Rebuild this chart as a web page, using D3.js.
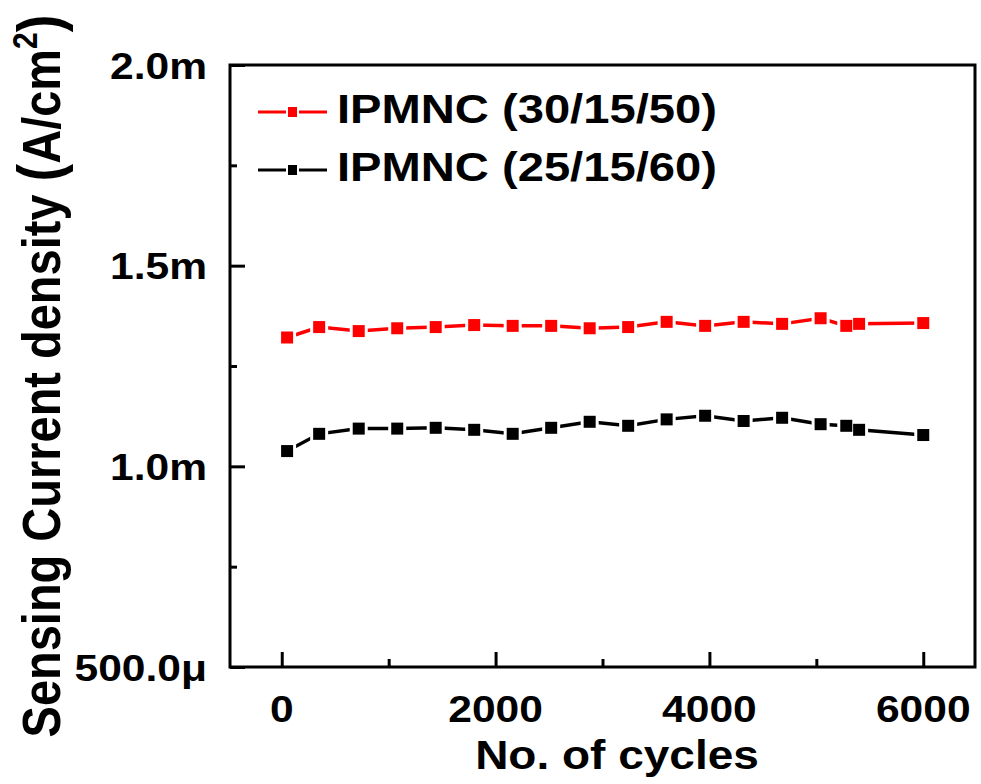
<!DOCTYPE html>
<html>
<head>
<meta charset="utf-8">
<script src="https://cdn.jsdelivr.net/npm/d3@7"></script>
<style>
  html, body { margin: 0; padding: 0; background: #fff; }
  svg { display: block; }
  text { font-family: "Liberation Sans", Arial, sans-serif; font-weight: bold; fill: #000; }
</style>
</head>
<body>
<svg id="chart" width="981" height="784"></svg>
<script>
// ---- data ----
const cycles = [50, 350, 720, 1080, 1440, 1800, 2160, 2520, 2880, 3240, 3600, 3960, 4320, 4680, 5040, 5280, 5400, 6000];
const seriesRed = [1.321, 1.347, 1.337, 1.344, 1.347, 1.352, 1.350, 1.350, 1.344, 1.347, 1.360, 1.350, 1.360, 1.355, 1.369, 1.350, 1.355, 1.357]; // mA/cm2
const seriesBlack = [1.038, 1.081, 1.094, 1.094, 1.096, 1.091, 1.081, 1.096, 1.111, 1.101, 1.117, 1.126, 1.113, 1.121, 1.105, 1.101, 1.091, 1.078]; // mA/cm2
const seriesNames = ["IPMNC (30/15/50)", "IPMNC (25/15/60)"];
const xTicks = [0, 2000, 4000, 6000];
const xMinorTicks = [1000, 3000, 5000];
const yTicks = [0.5, 1.0, 1.5, 2.0];
const yTickLabels = ["500.0\u03bc", "1.0m", "1.5m", "2.0m"];
const yMinorTicks = [0.75, 1.25, 1.75];

// ---- layout ----
const L = 230, R = 975, T = 65, B = 667;
const SX = 1.15; // horizontal stretch of the original rendering
const svg = d3.select("#chart");
const x = d3.scaleLinear().domain([-484, 6484]).range([L, R]);
const y = d3.scaleLinear().domain([0.5, 2.0]).range([B, T]);

// frame
svg.append("rect").attr("x", L).attr("y", T).attr("width", R - L).attr("height", B - T)
  .attr("fill", "none").attr("stroke", "#000").attr("stroke-width", 3);

// x axis ticks (inward)
const xAxis = d3.axisBottom(x).tickValues(xTicks).tickSizeInner(-15).tickSizeOuter(0).tickFormat("");
const gx = svg.append("g").attr("transform", `translate(0,${B})`).call(xAxis);
const xAxisMinor = d3.axisBottom(x).tickValues(xMinorTicks).tickSizeInner(-8).tickSizeOuter(0).tickFormat("");
const gxm = svg.append("g").attr("transform", `translate(0,${B})`).call(xAxisMinor);
[gx, gxm].forEach(g => { g.select(".domain").remove(); g.selectAll("line").attr("stroke", "#000").attr("stroke-width", 3); });

svg.append("g").selectAll("text").data(xTicks).join("text")
  .attr("transform", d => `translate(${x(d)},722) scale(${SX},1)`)
  .attr("text-anchor", "middle").attr("font-size", 37).text(d => d);

// y axis ticks
const yAxis = d3.axisLeft(y).tickValues(yTicks).tickSizeInner(-15).tickSizeOuter(0).tickFormat("");
const gy = svg.append("g").attr("transform", `translate(${L},0)`).call(yAxis);
const yAxisMinor = d3.axisLeft(y).tickValues(yMinorTicks).tickSizeInner(-7).tickSizeOuter(0).tickFormat("");
const gym = svg.append("g").attr("transform", `translate(${L},0)`).call(yAxisMinor);
[gy, gym].forEach(g => { g.select(".domain").remove(); g.selectAll("line").attr("stroke", "#000").attr("stroke-width", 3); });

svg.append("g").selectAll("text").data(yTicks).join("text")
  .attr("transform", d => `translate(207,${y(d) + 13.5}) scale(${SX},1)`)
  .attr("text-anchor", "end").attr("font-size", 37).text((d, i) => yTickLabels[i]);

// axis titles
svg.append("text").attr("transform", `translate(617,769) scale(${SX},1)`)
  .attr("text-anchor", "middle").attr("font-size", 40).text("No. of cycles");

const yt = svg.append("text").attr("transform", `translate(60,376) scale(${SX},1) rotate(-90)`)
  .attr("text-anchor", "middle").attr("font-size", 47);
yt.append("tspan").text("Sensing Current density ");
yt.append("tspan").attr("font-size", 53).text("(");
yt.append("tspan").text("A/cm");
yt.append("tspan").attr("font-size", 30).attr("dy", -20).text("2");
yt.append("tspan").attr("font-size", 53).attr("dy", 20).text(")");

// series
const series = [
  { vals: seriesRed, color: "#ff0000" },
  { vals: seriesBlack, color: "#000000" }
];
const line = d3.line().x(d => x(d[0])).y(d => y(d[1]));
series.forEach(s => {
  const pts = cycles.map((c, i) => [c, s.vals[i]]);
  svg.append("path").datum(pts).attr("d", line)
    .attr("fill", "none").attr("stroke", s.color).attr("stroke-width", 3.5);
});
// white gaps around markers
series.forEach(s => {
  const pts = cycles.map((c, i) => [c, s.vals[i]]);
  svg.append("g").selectAll("rect").data(pts).join("rect")
    .attr("x", d => x(d[0]) - 9).attr("y", d => y(d[1]) - 9)
    .attr("width", 18).attr("height", 18).attr("fill", "#fff");
});
series.forEach(s => {
  const pts = cycles.map((c, i) => [c, s.vals[i]]);
  svg.append("g").selectAll("rect").data(pts).join("rect")
    .attr("x", d => x(d[0]) - 6).attr("y", d => y(d[1]) - 6)
    .attr("width", 12).attr("height", 12).attr("fill", s.color);
});

// legend
const legY = [112, 170];
series.forEach((s, i) => {
  const g = svg.append("g");
  g.append("line").attr("x1", 258).attr("x2", 286).attr("y1", legY[i]).attr("y2", legY[i])
    .attr("stroke", s.color).attr("stroke-width", 3);
  g.append("line").attr("x1", 299).attr("x2", 327).attr("y1", legY[i]).attr("y2", legY[i])
    .attr("stroke", s.color).attr("stroke-width", 3);
  g.append("rect").attr("x", 288).attr("y", legY[i] - 5).attr("width", 9).attr("height", 10).attr("fill", s.color);
  g.append("text").attr("transform", `translate(337,${legY[i] + 11}) scale(${SX},1)`)
    .attr("font-size", 41).text(seriesNames[i]);
});
</script>
</body>
</html>
